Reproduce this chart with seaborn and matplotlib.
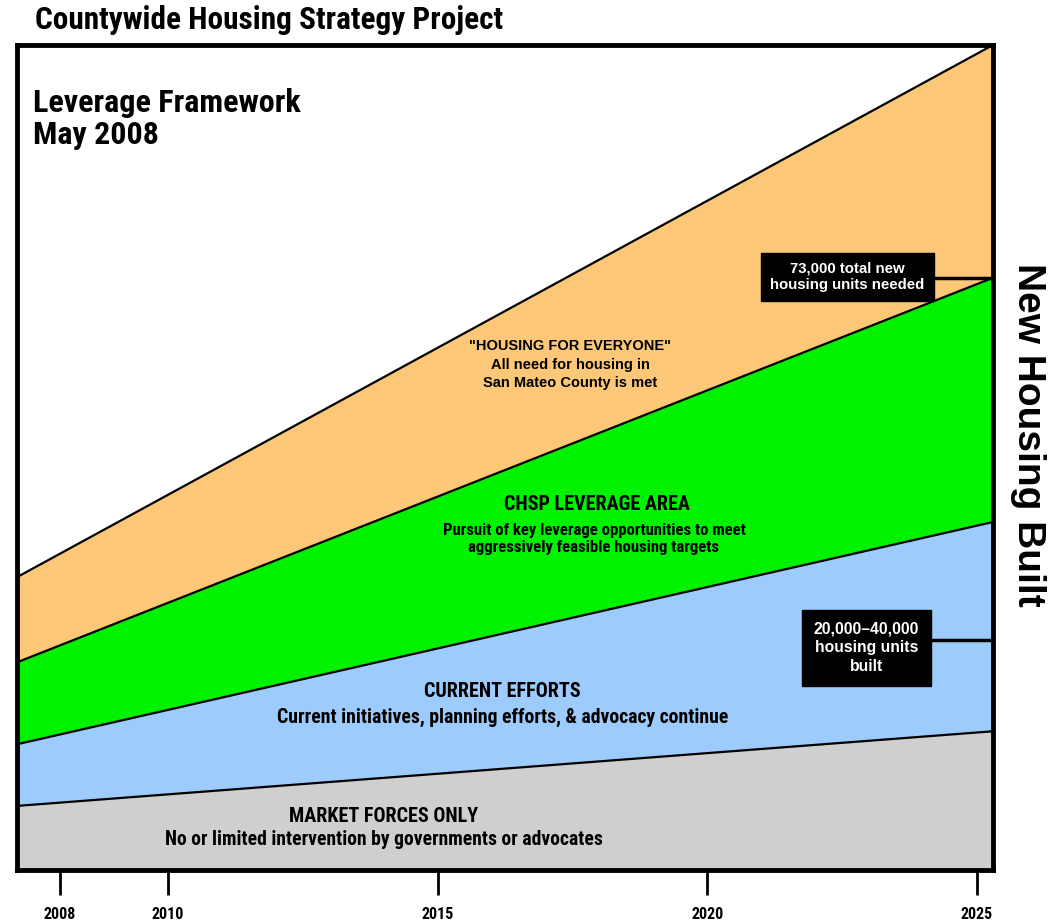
import matplotlib
matplotlib.use("Agg")
import matplotlib.pyplot as plt
import pandas as pd
import seaborn as sns

# band edges at the left/right of the timeline, in thousand housing units
years = [2007.2, 2025.3]
market_top = [7.9, 17.1]
current_top = [15.5, 42.9]
leverage_top = [25.6, 73.0]
everyone_top = [36.1, 101.7]

band_names = ["market", "current", "leverage", "everyone"]
band_colors = ["#cfcfcf", "#9dcbfb", "#00f200", "#fcc878"]
tick_years = [2008, 2010, 2015, 2020, 2025]

needed_total = 73.0   # 73,000 units needed
built_level = 28.4    # 20,000-40,000 units built marker

sns.set_style("white")
NARROW = ["Liberation Sans Narrow", "Roboto Condensed", "Liberation Sans", "DejaVu Sans"]
plt.rcParams["font.family"] = ["Liberation Sans", "DejaVu Sans"]
plt.rcParams["text.color"] = "black"
plt.rcParams["xtick.color"] = "black"

tops = [market_top, current_top, leverage_top, everyone_top]
df = pd.DataFrame({
    "year": years * len(band_names),
    "level": [v for t in tops for v in t],
    "band": [n for n in band_names for _ in years],
})

fig = plt.figure(figsize=(10.55, 9.22), dpi=100)
ax = fig.add_axes([0.0161, 0.0564, 0.9251, 0.8948])

lower = [0, 0]
for name, col, top in zip(band_names, band_colors, tops):
    ax.fill_between(years, lower, top, color=col, lw=0, zorder=1)
    lower = top

sns.lineplot(data=df, x="year", y="level", hue="band",
             palette={n: "black" for n in band_names},
             legend=False, lw=1.6, ax=ax, zorder=3)

ax.set_xlim(years)
ax.set_ylim(0, everyone_top[1])
ax.set_xticks(tick_years)
ax.set_xticklabels([str(y) for y in tick_years], family=NARROW,
                   fontweight="bold", fontsize=11.5)
ax.set_yticks([])
ax.tick_params(axis="x", length=18, width=2, pad=9, color="black", bottom=True)
ax.set_xlabel("")
ax.set_ylabel("")
for sp in ax.spines.values():
    sp.set_linewidth(3.5)
    sp.set_color("black")
    sp.set_zorder(5)

# titles
fig.text(0.033, 0.978, "Countywide Housing Strategy Project", family=NARROW,
         fontsize=22.5, fontweight="heavy", va="center", ha="left")
ax.text(0.016, 0.91, "Leverage Framework\nMay 2008", transform=ax.transAxes,
        family=NARROW, fontsize=23, fontweight="bold", va="center", ha="left",
        linespacing=1.1)

# band labels
ax.text(2017.46, 62.3, "\"HOUSING FOR EVERYONE\"\nAll need for housing in\nSan Mateo County is met",
        ha="center", va="center", fontsize=10.5, fontweight="bold", linespacing=1.4)
ax.text(2017.95, 45.0, "CHSP LEVERAGE AREA", family=NARROW, ha="center", va="center",
        fontsize=14.5, fontweight="heavy")
ax.text(2017.9, 40.8, "Pursuit of key leverage opportunities to meet\naggressively feasible housing targets",
        family=NARROW, ha="center", va="center", fontsize=12, fontweight="bold", linespacing=1.2)
ax.text(2016.2, 22.0, "CURRENT EFFORTS", family=NARROW, ha="center", va="center",
        fontsize=14.5, fontweight="heavy")
ax.text(2016.2, 18.8, "Current initiatives, planning efforts, & advocacy continue",
        family=NARROW, ha="center", va="center", fontsize=14.2, fontweight="bold")
ax.text(2014.0, 6.6, "MARKET FORCES ONLY", family=NARROW, ha="center", va="center",
        fontsize=14.5, fontweight="heavy")
ax.text(2014.0, 3.7, "No or limited intervention by governments or advocates",
        family=NARROW, ha="center", va="center", fontsize=14.1, fontweight="bold")

# call-out boxes with horizontal leaders to the right edge
ax.hlines([needed_total, built_level], 2023.5, years[1], color="black", lw=2.5, zorder=4)
ax.text(2022.6, 73.1, "73,000 total new\nhousing units needed", color="white",
        fontsize=10.8, fontweight="bold", ha="center", va="center", zorder=6,
        bbox=dict(boxstyle="square,pad=0.6", fc="black", ec="black"))
ax.text(2022.95, 27.4, "20,000\u201340,000\nhousing units\nbuilt", color="white",
        fontsize=11.3, fontweight="bold", ha="center", va="center", zorder=6,
        linespacing=1.3, bbox=dict(boxstyle="square,pad=0.75", fc="black", ec="black"))

fig.text(0.974, 0.528, "New Housing Built", rotation=-90, fontsize=28,
         fontweight="bold", ha="center", va="center")

fig.savefig("out.png", dpi=100)
